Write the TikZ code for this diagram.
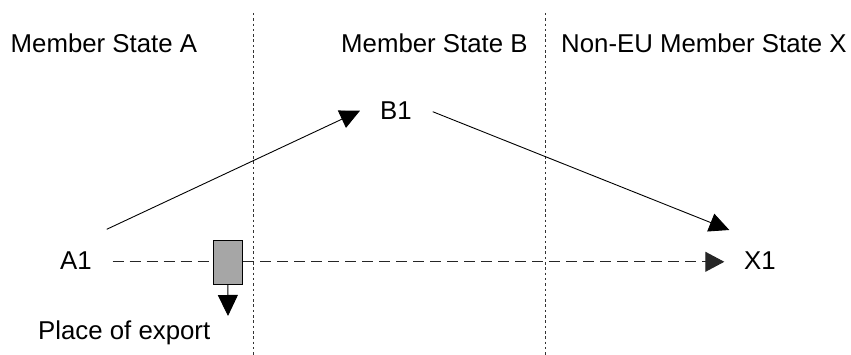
\documentclass[tikz,border=0pt]{standalone}
\usepackage{fontspec}
\setmainfont{Liberation Sans}
\usetikzlibrary{arrows.meta}
\definecolor{boxgray}{RGB}{166,166,166}
\begin{document}
\begin{tikzpicture}[x=1pt,y=-1pt,
  lbl/.style={inner sep=0pt,anchor=base west,font=\fontsize{25.8}{31}\selectfont},
  border/.style={line width=0.9pt,dash pattern=on 2.5pt off 2.8pt,black!80},
  flow/.style={line width=0.9pt,-{Triangle[length=20pt,width=19pt]}},
  dashflow/.style={line width=0.9pt,dash pattern=on 11pt off 6pt,black!85},
  exportbox/.style={draw,line width=0.9pt,fill=boxgray,minimum width=29.7pt,minimum height=44.3pt,inner sep=0pt}]
\useasboundingbox (0,0) rectangle (851,355);
% country borders
\coordinate (b1top) at (253.7,13);
\coordinate (b1bot) at (253.7,355);
\coordinate (b2top) at (545.5,13);
\coordinate (b2bot) at (545.5,355);
\draw[border] (b1top) -- (b1bot);
\draw[border] (b2top) -- (b2bot);
% headings
\node[lbl] (msa) at (10.5,52.5) {Member State A};
\node[lbl] (msb) at (341,52.5) {Member State B};
\node[lbl] (msx) at (561,52.5) {Non-EU Member State X};
% parties
\node[lbl] (A1) at (60,270) {A1};
\node[lbl] (B1) at (380,120) {B1};
\node[lbl] (X1) at (744,270) {X1};
\node[lbl] (poe) at (38,339) {Place of export};
% export box
\node[exportbox] (box) at (227.8,262.2) {};
% connector ends
\coordinate (a1up) at (106.7,229.3);
\coordinate (b1in) at (360,110.7);
\coordinate (b1out) at (432.7,111.7);
\coordinate (x1in) at (729.3,230);
\coordinate (a1dash) at (112.7,261.8);
\coordinate (x1dash) at (724.3,261.8);
\coordinate (poeup) at (228,316);
% invoicing flow
\draw[flow] (a1up) -- (b1in);
\draw[flow] (b1out) -- (x1in);
% goods movement
\draw[dashflow] (a1dash) -- (a1dash -| box.west);
\draw[dashflow,-{Triangle[length=19pt,width=20pt]}] (x1dash -| box.east) -- (x1dash);
\draw[line width=0.9pt,-{Triangle[length=21pt,width=20pt]}] (box.south) -- (poeup);
\end{tikzpicture}
\end{document}
